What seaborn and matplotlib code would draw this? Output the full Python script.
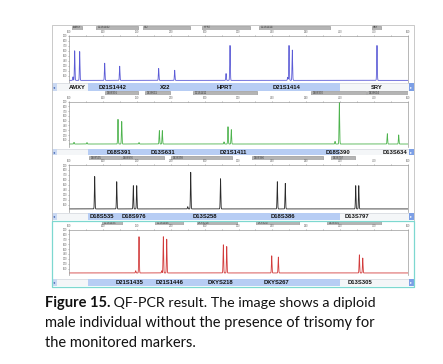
import numpy as np
import matplotlib
matplotlib.use("Agg")
import matplotlib.pyplot as plt
import seaborn as sns
from matplotlib.patches import Rectangle

W, H = 443, 364

# size axis (bp) and signal axis (RFU)
size_ticks = list(range(100, 501, 40))
rfu_ticks = list(range(100, 901, 100))

# --- blue dye: AMXY, D21S1442, X22, HPRT, D21S1414, SRY
blue_peaks = [104.7, 106.7, 112.6, 142.1, 159.8, 205.8, 224.7, 285.3, 290.0, 358.0, 359.6, 363.5, 463.4]
blue_heights = [70, 585, 570, 340, 280, 235, 200, 135, 690, 60, 690, 600, 690]
blue_markers = ["AMXY", "D21S1442", "X22", "HPRT", "D21S1414", "SRY"]
blue_marker_pos = [109.4, 151.9, 213.3, 284.1, 357.3, 463.4]
blue_bin_lo = [103.5, 131.9, 187.3, 257.0, 324.2, 457.6]
blue_bin_hi = [115.3, 181.4, 242.8, 313.6, 408.0, 468.2]

# --- green dye: D18S391, D13S631, D21S1411, D18S390, D13S634
green_peaks = [105.9, 121.2, 157.8, 162.2, 182.6, 206.6, 210.1, 282.9, 287.6, 291.5, 413.9, 419.0, 475.6, 489.0]
green_heights = [35, 30, 515, 470, 30, 280, 280, 45, 360, 300, 55, 880, 215, 190]
green_markers = ["D18S391", "D13S631", "D21S1411", "D18S390", "D13S634"]
green_marker_pos = [159.0, 210.9, 293.5, 417.4, 484.7]
green_bin_lo = [142.5, 189.7, 246.4, 385.6, 451.6]
green_bin_hi = [181.4, 219.2, 321.8, 450.5, 500.0]

# --- black dye: D18S535, D18S976, D13S258, D18S386, D13S797
black_peaks = [130.3, 156.3, 175.9, 179.9, 240.1, 243.6, 278.8, 345.8, 355.2, 438.3, 441.9]
black_heights = [655, 550, 470, 470, 45, 740, 610, 550, 515, 470, 470]
black_markers = ["D18S535", "D18S976", "D13S258", "D18S386", "D13S797"]
black_marker_pos = [139.0, 176.7, 260.5, 352.6, 440.0]
black_bin_lo = [123.6, 162.5, 220.4, 316.0, 409.2]
black_bin_hi = [161.4, 212.1, 292.4, 399.7, 437.5]

# --- red dye: D21S1435, D21S1446, DXYS218, DXYS267, D13S305
red_peaks = [178.7, 182.6, 209.4, 211.3, 215.3, 282.1, 286.1, 339.2, 347.0, 442.6, 446.6]
red_heights = [45, 740, 45, 740, 690, 575, 540, 350, 325, 370, 305]
red_markers = ["D21S1435", "D21S1446", "DXYS218", "DXYS267", "D13S305"]
red_marker_pos = [172.0, 219.2, 278.2, 344.3, 443.5]
red_bin_lo = [139.0, 201.5, 251.0, 320.7, 404.4]
red_bin_hi = [162.5, 234.5, 298.2, 371.4, 468.2]

caption_bold = "Figure 15."
caption_lines = [" QF-PCR result. The image shows a diploid",
                 "male individual without the presence of trisomy for",
                 "the monitored markers."]


def px_rect(x0, y0, x1, y1):
    return [x0 / W, 1 - y1 / H, (x1 - x0) / W, (y1 - y0) / H]


def bp(px):
    return 100 + (px - 69) * 400 / 339


def trace(peaks, heights):
    x = np.arange(100, 500.05, 0.1)
    y = np.full_like(x, 12.0)
    for p, h in zip(peaks, heights):
        y += h * np.exp(-0.5 * ((x - p) / 0.35) ** 2)
    return x, y


sns.set_style("white")
plt.rcParams["font.family"] = ["Liberation Sans", "DejaVu Sans"]

fig = plt.figure(figsize=(W / 100, H / 100), dpi=100)

panels = [
    (blue_peaks, blue_heights, blue_markers, blue_marker_pos, blue_bin_lo, blue_bin_hi, "#5b5bd6",
     (25.5, 29.5, 35.5, 83, 83, 90.5)),
    (green_peaks, green_heights, green_markers, green_marker_pos, green_bin_lo, green_bin_hi, "#4db34d",
     (91, 95, 101.5, 146.5, 148.5, 155)),
    (black_peaks, black_heights, black_markers, black_marker_pos, black_bin_lo, black_bin_hi, "#2b2b2b",
     (155.8, 159.5, 165, 211.5, 213, 219.5)),
    (red_peaks, red_heights, red_markers, red_marker_pos, red_bin_lo, red_bin_hi, "#d23c3c",
     (221.2, 225, 229.5, 275.5, 279, 285.5)),
]

for peaks, heights, markers, mpos, lo, hi, color, (b0, b1, p0, p1, s0, s1) in panels:
    # bins row
    axb = fig.add_axes(px_rect(69, b0, 408, b1))
    axb.set_xlim(100, 500)
    axb.set_ylim(0, 1)
    axb.axis("off")
    for name, a, b in zip(markers, lo, hi):
        axb.add_patch(Rectangle((a, 0), b - a, 1, facecolor="#b4b4b4", edgecolor="#8a8a8a", lw=0.4))
        axb.text(a + 1.5, 0.5, name, fontsize=1.9, va="center", ha="left", color="#333333")

    # electropherogram
    ax = fig.add_axes(px_rect(69, p0, 408, p1))
    x, y = trace(peaks, heights)
    sns.lineplot(x=x, y=y, ax=ax, color=color, linewidth=0.6)
    ax.set_xlim(100, 500)
    ax.set_ylim(-40, 900)
    ax.xaxis.tick_top()
    ax.set_xticks(size_ticks)
    ax.set_xticks([t + 20 for t in size_ticks[:-1]], minor=True)
    ax.set_yticks(rfu_ticks)
    ax.tick_params(axis="both", which="major", labelsize=1.9, labelcolor="#666666", length=1,
                   width=0.4, color="#777777", pad=0.3)
    ax.tick_params(axis="x", which="minor", length=0.7, width=0.4, color="#777777", top=True, bottom=False)
    ax.tick_params(axis="y", left=True)
    ax.set_xlabel("")
    ax.set_ylabel("")
    for side in ["left", "right", "top"]:
        ax.spines[side].set_color("#9a9a9a")
        ax.spines[side].set_linewidth(0.5)
    ax.spines["bottom"].set_visible(False)

    # marker label strip
    axs = fig.add_axes(px_rect(52, s0, 414, s1))
    axs.set_xlim(bp(52), bp(414))
    axs.set_ylim(0, 1)
    axs.axis("off")
    axs.add_patch(Rectangle((bp(52), 0), bp(414) - bp(52), 1, facecolor="#f4f6f8", edgecolor="#c8ccd4", lw=0.4))
    axs.axvspan(bp(88), bp(340), color="#b7cdf4", lw=0)
    axs.axvspan(bp(52), bp(57), color="#c9d8f2", lw=0)
    axs.axvspan(bp(409), bp(414), color="#7c9fe6", lw=0)
    axs.text(bp(54.5), 0.5, "◂", fontsize=3, ha="center", va="center", color="#3a5fb0")
    axs.text(bp(411.5), 0.5, "▸", fontsize=3, ha="center", va="center", color="#ffffff")
    for name, p in zip(markers, mpos):
        axs.text(p, 0.45, name, fontsize=4.2, fontweight="bold", ha="center", va="center", color="#111111")

# outer frame and the selected (teal) red panel
fig.add_artist(Rectangle((52 / W, 1 - 287 / H), 362 / W, 262.5 / H, transform=fig.transFigure,
                         fill=False, edgecolor="#c0c0c0", lw=0.6))
fig.add_artist(Rectangle((52 / W, 1 - 287 / H), 362 / W, 66.5 / H, transform=fig.transFigure,
                         fill=False, edgecolor="#7dd8d0", lw=0.9))

# caption
cap_font = ["Lato", "DejaVu Sans"]
t = fig.text(45 / W, 1 - 307 / H, caption_bold, fontsize=10.5, fontweight="bold", family=cap_font,
             va="baseline", ha="left", color="#111111")
fig.canvas.draw()
bb = t.get_window_extent()
fig.text((bb.x1 - 1) / W, 1 - 307 / H, caption_lines[0], fontsize=10.3, family=cap_font,
         va="baseline", ha="left", color="#111111")
fig.text(45 / W, 1 - 327 / H, caption_lines[1], fontsize=10.5, family=cap_font,
         va="baseline", ha="left", color="#111111")
fig.text(45 / W, 1 - 347 / H, caption_lines[2], fontsize=10.5, family=cap_font,
         va="baseline", ha="left", color="#111111")

fig.savefig("out.png", dpi=100)
